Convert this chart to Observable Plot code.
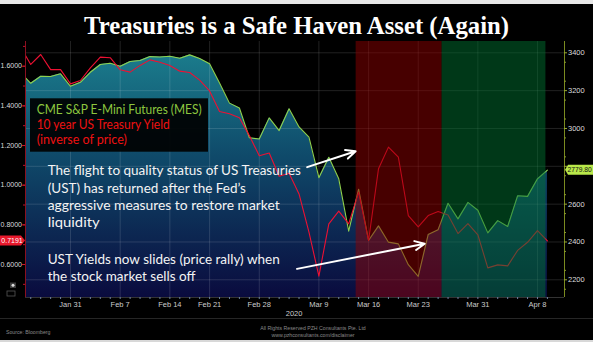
<!DOCTYPE html>
<html><head><meta charset="utf-8">
<script src="https://cdn.jsdelivr.net/npm/d3@7"></script>
<script src="https://cdn.jsdelivr.net/npm/@observablehq/plot@0.6"></script>
<style>
html,body{margin:0;padding:0;background:#000;}
#wrap{position:relative;width:593px;height:342px;overflow:hidden;background:#000;}
#wrap svg{display:block;}
</style></head><body>
<div id="wrap"></div>
<script>
// ---- data (trading days) ----
const dates = ["2020-01-24","2020-01-27","2020-01-28","2020-01-29","2020-01-30","2020-01-31",
"2020-02-03","2020-02-04","2020-02-05","2020-02-06","2020-02-07","2020-02-10","2020-02-11","2020-02-12","2020-02-13","2020-02-14",
"2020-02-18","2020-02-19","2020-02-20","2020-02-21","2020-02-24","2020-02-25","2020-02-26","2020-02-27","2020-02-28",
"2020-03-02","2020-03-03","2020-03-04","2020-03-05","2020-03-06","2020-03-09","2020-03-10","2020-03-11","2020-03-12","2020-03-13",
"2020-03-16","2020-03-17","2020-03-18","2020-03-19","2020-03-20","2020-03-23","2020-03-24","2020-03-25","2020-03-26","2020-03-27",
"2020-03-30","2020-03-31","2020-04-01","2020-04-02","2020-04-03","2020-04-06","2020-04-07","2020-04-08","2020-04-09"];
// 10 year US Treasury yield (left axis)
const yieldVals = [1.694,1.609,1.659,1.583,1.583,1.511,
1.528,1.592,1.646,1.643,1.582,1.570,1.604,1.632,1.620,1.604,
1.575,1.568,1.530,1.475,1.372,1.360,1.340,1.250,1.148,
1.162,1.045,1.060,0.956,0.763,0.541,0.805,0.869,0.805,0.965,
0.721,1.083,1.192,1.141,0.847,0.790,0.847,0.867,0.850,0.756,
0.806,0.750,0.583,0.598,0.593,0.671,0.712,0.771,0.7191];
// CME S&P E-Mini futures (right axis)
const spVals = [3294,3239,3276,3275,3289,3223,
3244,3297,3338,3345,3329,3354,3359,3380,3378,3382,
3371,3389,3370,3342,3240,3134,3108,2951,2944,
3056,2989,3104,3008,2954,2740,2848,2734,2457,2679,
2408,2485,2399,2390,2280,2218,2439,2465,2605,2522,
2609,2568,2448,2513,2482,2644,2641,2734,2779.80];
const tickDates = ["2020-01-31","2020-02-07","2020-02-14","2020-02-21","2020-02-28","2020-03-09","2020-03-16","2020-03-23","2020-03-31","2020-04-08"];
const tickLabels = ["Jan 31","Feb 7","Feb 14","Feb 21","Feb 28","Mar 9","Mar 16","Mar 23","Mar 31","Apr 8"];
const leftTicks = [0.6,0.8,1.0,1.2,1.4,1.6];
const rightTicks = [2200,2400,2600,2800,3000,3200,3400];
const regionStart = [33.75, 42.4];
const regionEnd = [42.4, 52.85];
const regionColor = ["#8e0000","#007030"];
const legendLines = ["CME S&P E-Mini Futures (MES)","10 year US Treasury Yield","(inverse of price)"];
const callout1 = ["The flight to quality status of US Treasuries","(UST) has returned after the Fed\u2019s","aggressive measures to restore market","liquidity"];
const callout2 = ["UST Yields now slides (price rally) when","the stock market sells off"];
// arrows in data space (index, yield)
const arrows = [{x1:28.82,y1:1.091,x2:33.7,y2:1.171},{x1:27.8,y1:0.578,x2:40.65,y2:0.705}];

// ---- scales ----
const W = 593, H = 342, ML = 25, MR = 29, MT = 41, MB = 45;
const xDom = [0.471, 54.72];
const yDom = [0.4336, 1.7246];
const xPerPx = (xDom[1] - xDom[0]) / (W - ML - MR);
const yPerPx = (yDom[1] - yDom[0]) / (H - MT - MB);
const spA = 0.5228, spB = (1.6676 - 0.5228) / 1200;
const spToY = v => spA + (v - 2200) * spB;

const rows = dates.map((d, i) => ({i, date: d, y: yieldVals[i], sp: spVals[i]}));
const tickIdx = tickDates.map(d => dates.indexOf(d));
const labelOf = new Map(tickIdx.map((k, j) => [k, tickLabels[j]]));
const regions = regionStart.map((s, j) => ({start: s, end: regionEnd[j], color: regionColor[j]}));
const dayTicks = rows.map(d => d.i).filter(i => i > xDom[0]);
const leftMinor = d3.range(0.5, 1.75, 0.1).map(v => +v.toFixed(2));
const rightMinor = d3.range(2150, 3450, 100);
const lastYield = yieldVals[yieldVals.length - 1];
const lastSp = spVals[spVals.length - 1];
// right-axis labels hidden behind the last-value tag (as on the terminal)
const rightLabels = rightTicks.filter(t => Math.abs(spToY(t) - spToY(lastSp)) / yPerPx > 6 || t < lastSp - 100);
const leftLabels = leftTicks.filter(t => Math.abs(t - lastYield) / yPerPx > 8);

const defs = () => {
  const s = d3.create("svg:defs");
  const g = s.append("linearGradient").attr("id", "spGrad").attr("gradientUnits", "userSpaceOnUse")
    .attr("x1", 0).attr("x2", 0).attr("y1", MT).attr("y2", H - MB);
  g.append("stop").attr("offset", 0).attr("stop-color", "#1c8290");
  g.append("stop").attr("offset", 0.45).attr("stop-color", "#0f4a6a");
  g.append("stop").attr("offset", 1).attr("stop-color", "#0a0b3e");
  return s.node();
};

// value tags drawn through the y scale
const yPx = d3.scaleLinear(yDom, [H - MB, MT]);
const tagShapes = () => {
  const g = d3.create("svg:g");
  const yl = yPx(lastYield);
  g.append("path").attr("d", `M0,${yl - 5}H${ML - 4}L${ML},${yl}L${ML - 4},${yl + 5}H0Z`).attr("fill", "#e8192c");
  const yr = yPx(spToY(lastSp));
  const xr = W - MR + 1;
  g.append("path").attr("d", `M${xr},${yr}L${xr + 3},${yr - 5}H${W}V${yr + 5}H${xr + 3}Z`).attr("fill", "#b9e84a");
  return g.node();
};

const FF = "Liberation Sans, Arial, sans-serif";
const fmt4 = d3.format(".4f");

const chart = Plot.plot({
  width: W, height: H,
  marginLeft: ML, marginRight: MR, marginTop: MT, marginBottom: MB,
  style: {background: "transparent", color: "#ddd", fontFamily: FF, fontSize: "7.5px"},
  x: {type: "linear", domain: xDom, axis: null},
  y: {domain: yDom, axis: null},
  marks: [
    defs,
    Plot.areaY(rows, {x: "i", y1: yDom[0], y2: d => spToY(d.sp), fill: "url(#spGrad)", clip: true}),
    Plot.ruleY(rightTicks, {y: d => spToY(d), stroke: "#fff", strokeOpacity: 0.13}),
    Plot.ruleX(tickIdx, {x: d => d, stroke: "#fff", strokeOpacity: 0.13}),
    Plot.lineY(rows, {x: "i", y: d => spToY(d.sp), stroke: "#8fd14f", strokeWidth: 1.1, clip: true}),
    Plot.lineY(rows, {x: "i", y: "y", stroke: "#ee1133", strokeWidth: 1.1, clip: true}),
    Plot.rect(regions, {x1: "start", x2: "end", y1: yDom[0], y2: yDom[1], fill: "color", fillOpacity: 0.5}),
    // x axis
    Plot.ruleY([yDom[0]], {stroke: "#333"}),
    Plot.ruleX(dayTicks, {x: d => d, y1: yDom[0], y2: yDom[0] - 2 * yPerPx, stroke: "#6a7fa0"}),
    Plot.text(tickIdx, {x: d => d, y: yDom[0], dy: 6.7, text: i => labelOf.get(i), fill: "#ccc"}),
    Plot.text(["2020"], {x: [27.5], y: [yDom[0]], dy: 15.7, text: d => d, fill: "#ccc"}),
    // left axis
    Plot.ruleX([xDom[0]], {stroke: "#8b1020"}),
    Plot.ruleY(leftMinor, {y: d => d, x1: xDom[0] - 2 * xPerPx, x2: xDom[0], stroke: "#c0102a"}),
    Plot.ruleY(leftTicks, {y: d => d, x1: xDom[0] - 3 * xPerPx, x2: xDom[0], stroke: "#d0102a"}),
    Plot.text(leftLabels, {x: xDom[0], y: d => d, dx: -3.5, textAnchor: "end", text: d => fmt4(d), fill: "#ddd", fontSize: 7}),
    // right axis
    Plot.ruleX([xDom[1]], {stroke: "#7a8a20"}),
    Plot.ruleY(rightMinor, {y: d => spToY(d), x1: xDom[1], x2: xDom[1] + 2 * xPerPx, stroke: "#8a9a2a"}),
    Plot.ruleY(rightTicks, {y: d => spToY(d), x1: xDom[1], x2: xDom[1] + 3 * xPerPx, stroke: "#9aab30"}),
    Plot.text(rightLabels, {x: xDom[1], y: d => spToY(d), dx: 3.5, textAnchor: "start", text: d => String(d), fill: "#ddd"}),
    // last-value tags
    tagShapes,
    Plot.text([lastYield], {x: xDom[0], y: d => d, dx: -13.5, text: d => fmt4(d), fill: "#fff", fontSize: 7}),
    Plot.text([lastSp], {x: xDom[1], y: d => spToY(d), dx: 3, textAnchor: "start", text: d => d3.format(".2f")(d), fill: "#111", fontSize: 6.7}),
    Plot.arrow(arrows, {x1: "x1", y1: "y1", x2: "x2", y2: "y2", stroke: "#fff", strokeWidth: 2, headLength: 8, headAngle: 50})
  ]
});
document.getElementById("wrap").appendChild(chart);

const svg = d3.select(chart);
// ---- text layer (title, legend, callouts, footer) ----
function fit(sel, target) {
  const w = sel.node().getComputedTextLength();
  if (Math.abs(w - target) / target > 0.02) sel.attr("textLength", target).attr("lengthAdjust", "spacingAndGlyphs");
}
const layer = svg.append("g").attr("text-anchor", "start");
layer.append("rect").attr("x", 0).attr("y", 0).attr("width", W).attr("height", 4).attr("fill", "#e8e8e8");
const title = layer.append("text").attr("x", 296.5).attr("y", 33.5).attr("text-anchor", "middle")
  .attr("font-family", "Liberation Serif, Times New Roman, serif").attr("font-weight", "bold").attr("font-size", 26)
  .attr("fill", "#fff").text("Treasuries is a Safe Haven Asset (Again)");
fit(title, 425);

layer.append("rect").attr("x", 30).attr("y", 98.3).attr("width", 178).attr("height", 53.4).attr("fill", "#000").attr("fill-opacity", 0.92);
const legendColors = ["#8cc63f", "#ee1111", "#ee1111"];
const legendY = [114, 129.3, 143.5];
const legendW = [165, 133, 89];
legendLines.forEach((t, j) => {
  const s = layer.append("text").attr("x", 36.7).attr("y", legendY[j]).attr("fill", legendColors[j]).attr("text-anchor", "start")
    .attr("font-family", "Lato, 'Open Sans', sans-serif").attr("font-size", 12.5).text(t);
  fit(s, legendW[j]);
});
const c1Y = [175, 192.5, 210, 227.3], c1W = [257, 196, 232, 52];
callout1.forEach((t, j) => {
  const s = layer.append("text").attr("x", 47.7).attr("y", c1Y[j]).attr("fill", "#f4f4f4").attr("text-anchor", "start")
    .attr("font-family", "Lato, 'Open Sans', sans-serif").attr("font-size", 13.5).text(t);
  fit(s, c1W[j]);
});
const c2Y = [264, 281.3], c2W = [236, 150];
callout2.forEach((t, j) => {
  const s = layer.append("text").attr("x", 47.7).attr("y", c2Y[j]).attr("fill", "#f4f4f4").attr("text-anchor", "start")
    .attr("font-family", "Lato, 'Open Sans', sans-serif").attr("font-size", 13.5).text(t);
  fit(s, c2W[j]);
});

// icons at bottom-left
layer.append("rect").attr("x", 10).attr("y", 282.5).attr("width", 6).attr("height", 5.5).attr("fill", "#3a3a3a");
layer.append("circle").attr("cx", 13).attr("cy", 285.2).attr("r", 1.5).attr("fill", "#ddd");
layer.append("rect").attr("x", 7).attr("y", 291).attr("width", 8).attr("height", 5).attr("fill", "none").attr("stroke", "#555").attr("stroke-width", 0.8);

// footer
layer.append("line").attr("x1", 0).attr("x2", W).attr("y1", 318.5).attr("y2", 318.5).attr("stroke", "#262626");
layer.append("text").attr("x", 6).attr("y", 334).attr("fill", "#8a8a8a").attr("font-size", 5.2)
  .attr("font-family", FF).text("Source: Bloomberg");
layer.append("text").attr("x", 313).attr("y", 330).attr("text-anchor", "middle").attr("fill", "#8a8a8a").attr("font-size", 5.2)
  .attr("font-family", FF).text("All Rights Reserved PZH Consultants Pte. Ltd");
layer.append("text").attr("x", 313).attr("y", 337).attr("text-anchor", "middle").attr("fill", "#8a8a8a").attr("font-size", 5.2)
  .attr("font-family", FF).text("www.pzhconsultants.com/disclaimer");
layer.append("rect").attr("x", 0).attr("y", 340).attr("width", W).attr("height", 2).attr("fill", "#d8d8d8");
</script>
</body></html>
